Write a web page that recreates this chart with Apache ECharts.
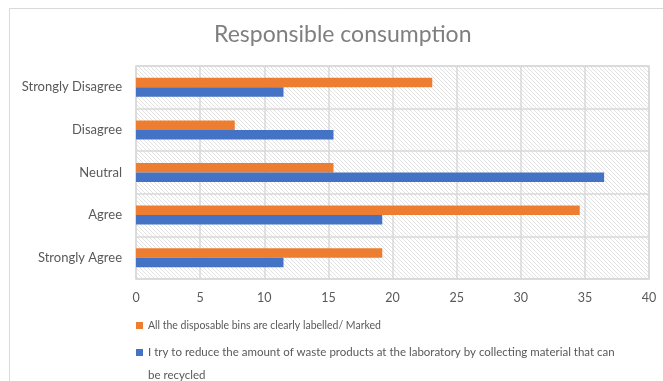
<!DOCTYPE html>
<html><head><meta charset="utf-8">
<script src="https://cdn.jsdelivr.net/npm/echarts@6/dist/echarts.min.js"></script>
<style>html,body{margin:0;padding:0;background:#fff}#c{width:663px;height:381px}</style>
</head><body><div id="c"></div>
<script>
const categories = ['Strongly Agree', 'Agree', 'Neutral', 'Disagree', 'Strongly Disagree'];
const binsLabelled = [19.2, 34.6, 15.4, 7.7, 23.1];
const reduceWaste = [11.5, 19.2, 36.5, 15.4, 11.5];
const xTicks = [0, 5, 10, 15, 20, 25, 30, 35, 40];
const nameOrange = 'All the disposable bins are clearly labelled/ Marked';
const nameBlue = 'I try to reduce the amount of waste products at the laboratory by collecting material that can be recycled';

const cv = document.createElement('canvas');
cv.width = 4; cv.height = 4;
const cx = cv.getContext('2d');
cx.fillStyle = '#ffffff'; cx.fillRect(0, 0, 4, 4);
cx.strokeStyle = '#e2e2e2'; cx.lineWidth = 1;
cx.beginPath(); cx.moveTo(-1, -1); cx.lineTo(5, 5); cx.moveTo(-1, 3); cx.lineTo(1, 5); cx.moveTo(3, -1); cx.lineTo(5, 1); cx.stroke();

const FONT = 'Lato';
const chart = echarts.init(document.getElementById('c'));
chart.setOption({
  backgroundColor: '#ffffff',
  textStyle: { fontFamily: FONT },
  title: {
    text: 'Responsible consumption', left: 209, top: 18,
    textStyle: { fontFamily: FONT, fontSize: 23, fontWeight: 'normal', color: '#7f7f7f' }
  },
  graphic: [{
    type: 'rect', shape: { x: 9.5, y: 8.5, width: 700, height: 400 }, silent: true, z: -10,
    style: { fill: null, stroke: '#d9d9d9', lineWidth: 1 }
  }],
  grid: {
    left: 136, right: 14, top: 66, bottom: 102, show: true,
    backgroundColor: { image: cv, repeat: 'repeat' }, borderColor: '#d9d9d9', borderWidth: 1.5
  },
  xAxis: {
    type: 'value', min: 0, max: 40, interval: 5,
    axisLine: { show: false }, axisTick: { show: false },
    splitLine: { show: true, lineStyle: { color: '#d9d9d9', width: 1.5 } },
    axisLabel: { color: '#595959', fontSize: 12.5, margin: 12, fontFamily: FONT,
      formatter: v => xTicks.includes(v) ? String(v) : '' }
  },
  yAxis: {
    type: 'category', data: categories,
    axisLine: { show: false }, axisTick: { show: false },
    splitLine: { show: true, lineStyle: { color: '#d9d9d9', width: 1.5 } },
    axisLabel: { color: '#595959', fontSize: 13, margin: 14, fontFamily: FONT }
  },
  legend: [{
    orient: 'vertical', left: 136, top: 314, padding: 0, itemWidth: 7, itemHeight: 7,
    icon: 'rect', selectedMode: false,
    textStyle: { color: '#595959', fontSize: 10.5, fontFamily: FONT, lineHeight: 23 },
    data: [nameOrange]
  }, {
    orient: 'vertical', left: 136, top: 318, padding: 0, itemWidth: 7, itemHeight: 7,
    icon: 'rect', selectedMode: false,
    textStyle: { color: '#595959', fontSize: 11.5, fontFamily: FONT, lineHeight: 23 },
    data: [nameBlue],
    formatter: () => '\nI try to reduce the amount of waste products at the laboratory by collecting material that can\nbe recycled'
  }],
  series: [
    { name: nameOrange, type: 'bar', data: binsLabelled, barWidth: 9.5, barGap: '0%',
      itemStyle: { color: '#ED7D31' }, animation: false },
    { name: nameBlue, type: 'bar', data: reduceWaste, barWidth: 9.5, barGap: '0%',
      itemStyle: { color: '#4472C4' }, animation: false }
  ]
});
</script></body></html>
